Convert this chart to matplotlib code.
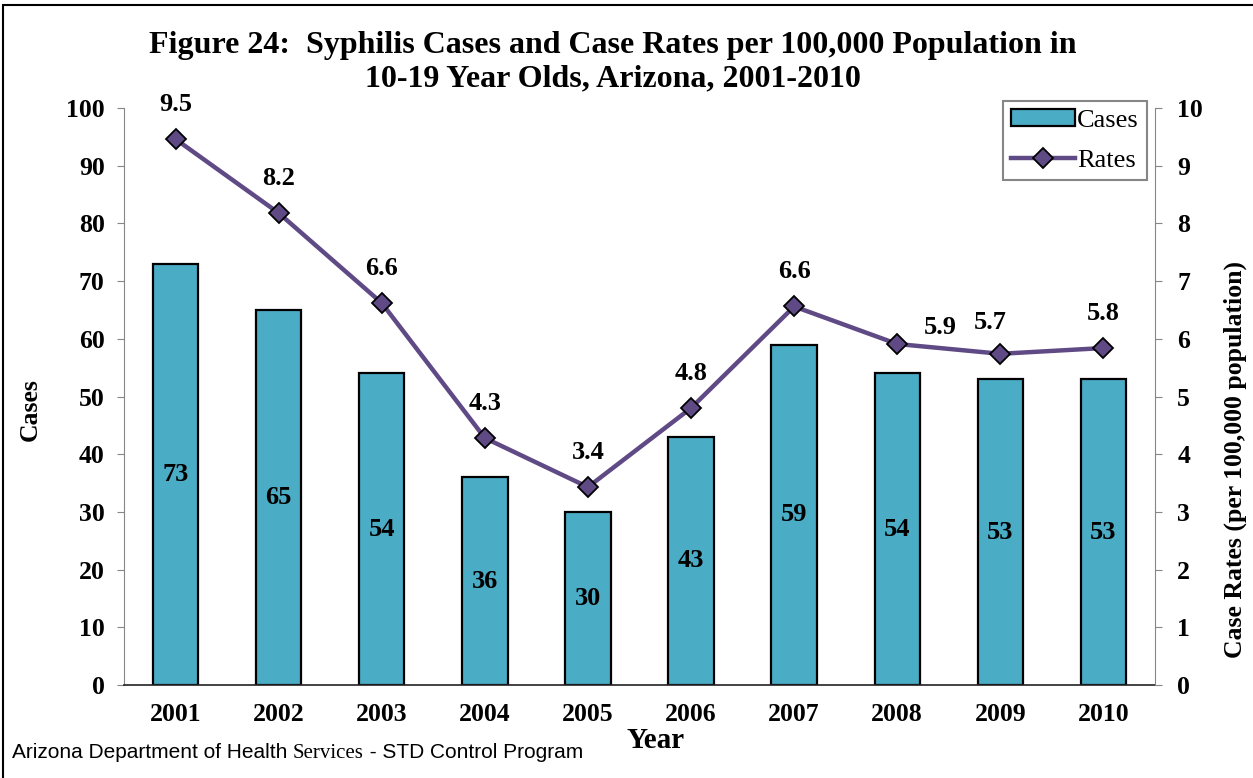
import matplotlib
matplotlib.use("Agg")
import matplotlib.pyplot as plt
from matplotlib.patches import Rectangle
import numpy as np

years = ["2001", "2002", "2003", "2004", "2005", "2006", "2007", "2008", "2009", "2010"]
cases = [73, 65, 54, 36, 30, 43, 59, 54, 53, 53]
rates = [9.46, 8.18, 6.62, 4.28, 3.43, 4.80, 6.56, 5.91, 5.74, 5.84]
rate_labels = ["9.5", "8.2", "6.6", "4.3", "3.4", "4.8", "6.6", "5.9", "5.7", "5.8"]

SERIF = "Liberation Serif"
SANS = "Liberation Sans"
BAR_COLOR = "#4BACC6"
LINE_COLOR = "#5F4A85"
SPINE_GRAY = "#868686"

W, H = 1253, 778
fig = plt.figure(figsize=(W / 100, H / 100), dpi=100)
ax = fig.add_axes([124 / W, 1 - 685 / H, (1155 - 124) / W, (685 - 108) / H])
ax2 = ax.twinx()

x = np.arange(len(years))
bars = ax.bar(x, cases, width=0.44, color=BAR_COLOR, edgecolor="black", linewidth=1.6,
              label="Cases", zorder=2)
ax.set_xlim(-0.5, len(years) - 0.5)
ax.set_ylim(0, 100)
ax.set_yticks(np.arange(0, 101, 10))
ax.set_xticks(x)
ax.set_xticklabels(years)

for xi, v in zip(x, cases):
    ax.text(xi, v / 2, str(v), ha="center", va="center", fontsize=19,
            fontweight="bold", family=SERIF, zorder=3)

line, = ax2.plot(x, rates, color=LINE_COLOR, linewidth=3.2, marker="D", markersize=10,
                 markerfacecolor=LINE_COLOR, markeredgecolor="black", markeredgewidth=1.3,
                 label="Rates", zorder=4)
ax2.set_ylim(0, 10)
ax2.set_yticks(np.arange(0, 11, 1))

# label offsets in pixels (dx, dy) relative to marker
offsets = {7: (43, 16), 8: (-10, 31)}
for i, (xi, r, lab) in enumerate(zip(x, rates, rate_labels)):
    dx, dy = offsets.get(i, (0, 35))
    ax2.annotate(lab, (xi, r), xytext=(dx * 0.72, dy * 0.72), textcoords="offset points",
                 ha="center", va="center", fontsize=19, fontweight="bold", family=SERIF)

# spines
for a in (ax, ax2):
    a.spines["top"].set_visible(False)
ax.spines["left"].set_color(SPINE_GRAY)
ax.spines["right"].set_visible(False)
ax2.spines["left"].set_visible(False)
ax2.spines["right"].set_color(SPINE_GRAY)
ax.spines["bottom"].set_color("#222222")
ax.spines["bottom"].set_linewidth(1.2)
ax2.spines["bottom"].set_visible(False)

ax.tick_params(axis="y", direction="out", length=5, color=SPINE_GRAY, pad=9)
ax.tick_params(axis="x", length=0, pad=13)
ax2.tick_params(axis="y", direction="out", length=5, color=SPINE_GRAY, pad=11)
for lbl in ax.get_yticklabels() + ax.get_xticklabels() + ax2.get_yticklabels():
    lbl.set_fontfamily(SERIF)
    lbl.set_fontweight("bold")
    lbl.set_fontsize(18.5)

ax.set_ylabel("Cases", fontsize=18.5, fontweight="bold", family=SERIF)
ax.yaxis.set_label_coords(-82 / 1031, (685 - 410) / 577)
ax2.set_ylabel("Case Rates (per 100,000 population)", fontsize=18.5, fontweight="bold",
               family=SERIF)
ax2.yaxis.set_label_coords(1 + 69 / 1031, (685 - 460) / 577)

fig.text(656 / W, 1 - 741 / H, "Year", ha="center", va="center", fontsize=21,
         fontweight="bold", family=SERIF)

fig.text(613 / W, 1 - 46 / H, "Figure 24:  Syphilis Cases and Case Rates per 100,000 Population in",
         ha="center", va="center", fontsize=23, fontweight="bold", family=SERIF)
fig.text(613 / W, 1 - 79 / H, "10-19 Year Olds, Arizona, 2001-2010",
         ha="center", va="center", fontsize=23, fontweight="bold", family=SERIF)

# footer: mixed fonts on a shared baseline
FOOT = 15
BASE = 1 - 758 / H
t1 = fig.text(12 / W, BASE, "Arizona Department of Health ", ha="left", va="baseline",
              fontsize=FOOT, family=SANS)
fig.canvas.draw()
r = fig.canvas.get_renderer()
bb = t1.get_window_extent(renderer=r)
t2 = fig.text(bb.x1 / W, BASE, "Services", ha="left", va="baseline", fontsize=FOOT, family=SERIF)
bb2 = t2.get_window_extent(renderer=r)
fig.text(bb2.x1 / W, BASE, " - STD Control Program", ha="left", va="baseline",
         fontsize=FOOT, family=SANS)

leg = ax.legend(handles=[bars, line], labels=["Cases", "Rates"], loc="upper right",
                bbox_to_anchor=(1147 / W, 1 - 101 / H), bbox_transform=fig.transFigure,
                frameon=True, fancybox=False, edgecolor=SPINE_GRAY, framealpha=1,
                prop={"family": SERIF, "size": 19}, handlelength=2.4, handleheight=0.6,
                handletextpad=0.1, borderpad=0.3, labelspacing=0.68, borderaxespad=0)
leg.get_frame().set_linewidth(1.5)
leg.set_zorder(10)

# figure border
fig.patches.append(Rectangle((3 / W, -0.1), 1.2, 1 - 5 / H + 0.1, transform=fig.transFigure,
                             fill=False, edgecolor="black", linewidth=1.5))

fig.savefig("out.png", dpi=100)
